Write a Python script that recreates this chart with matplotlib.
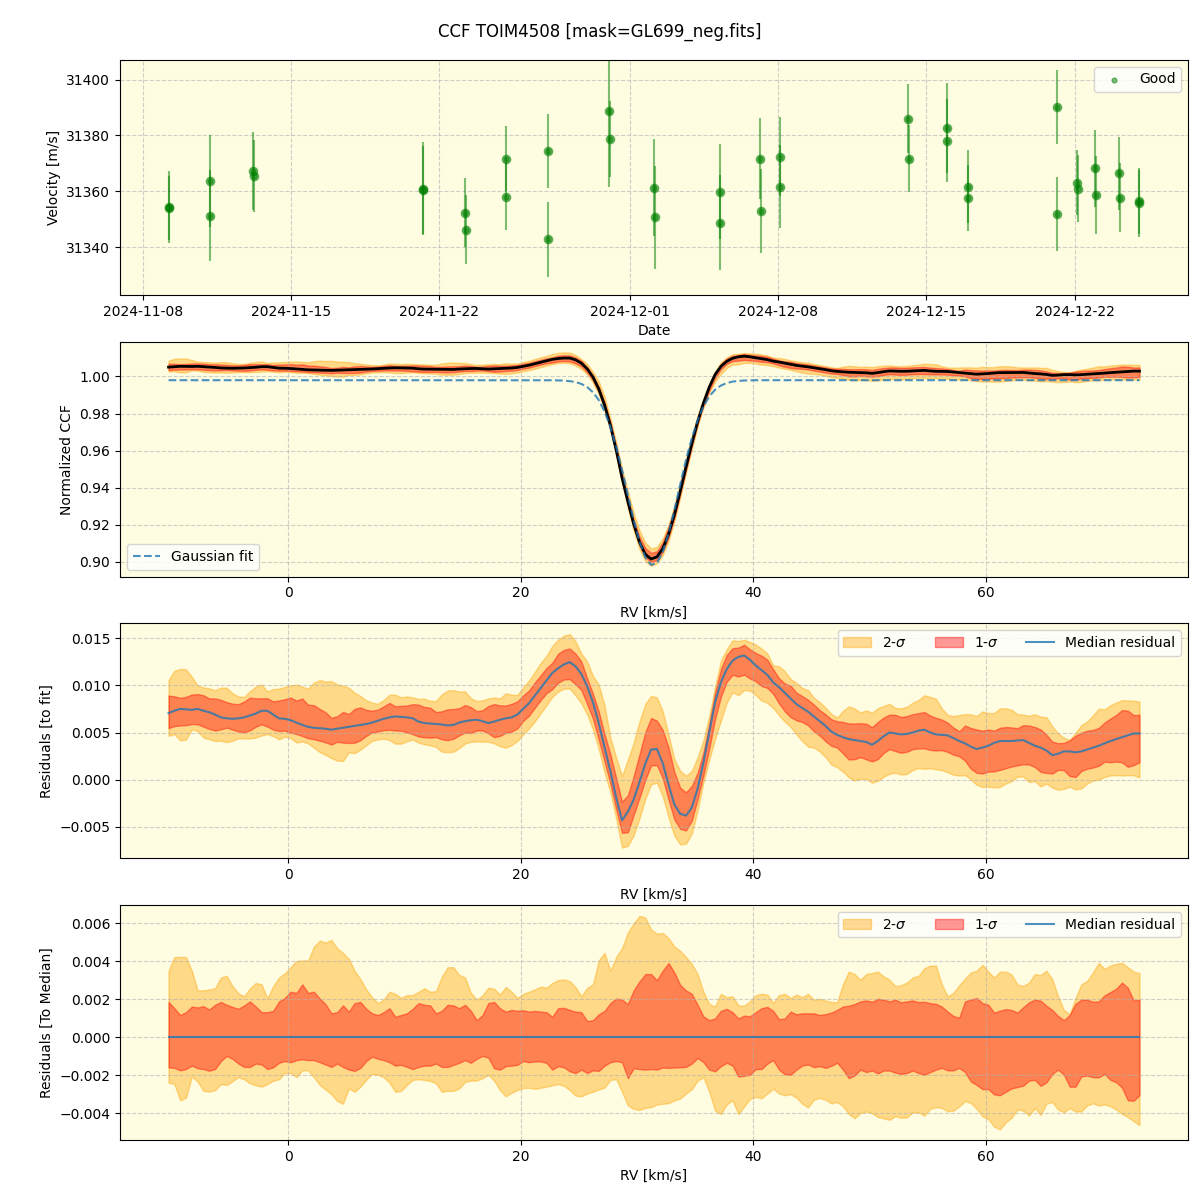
import numpy as np
import pandas as pd
import matplotlib
matplotlib.use("Agg")
import matplotlib.pyplot as plt

# --- RV time series (two exposures per night) ---
obs_time = ["2024-11-09 05:00", "2024-11-09 06:00", "2024-11-11 03:30", "2024-11-11 04:10",
            "2024-11-13 04:40", "2024-11-13 05:20", "2024-11-21 05:10", "2024-11-21 05:50",
            "2024-11-23 05:00", "2024-11-23 05:40", "2024-11-25 03:00", "2024-11-25 03:40",
            "2024-11-27 02:40", "2024-11-27 03:20", "2024-11-30 00:10", "2024-11-30 00:50",
            "2024-12-02 03:40", "2024-12-02 04:20", "2024-12-05 05:30", "2024-12-05 06:00",
            "2024-12-07 03:30", "2024-12-07 04:10", "2024-12-08 01:40", "2024-12-08 02:20",
            "2024-12-14 03:20", "2024-12-14 04:00", "2024-12-15 23:00", "2024-12-15 23:40",
            "2024-12-16 22:40", "2024-12-16 23:20", "2024-12-21 03:30", "2024-12-21 04:10",
            "2024-12-22 02:40", "2024-12-22 03:20", "2024-12-22 23:10", "2024-12-22 23:50",
            "2024-12-24 02:50", "2024-12-24 03:30", "2024-12-25 00:50", "2024-12-25 01:30"]
rv_obs = [31354.5, 31354.0, 31363.8, 31351.3, 31367.4, 31365.6, 31361.0, 31360.5,
          31352.4, 31346.3, 31371.7, 31358.1, 31374.5, 31342.8, 31388.8, 31378.8,
          31361.3, 31350.7, 31359.9, 31348.8, 31371.7, 31352.9, 31372.4, 31361.7,
          31386.0, 31371.7, 31382.7, 31378.1, 31361.7, 31357.7, 31390.2, 31352.0,
          31363.1, 31361.0, 31368.2, 31358.8, 31366.4, 31357.7, 31356.5, 31355.7]
rv_err = [12.9, 11.5, 16.4, 16.2, 13.9, 12.9, 16.5, 15.8,
          12.3, 12.3, 11.7, 12.0, 13.3, 13.3, 27.3, 13.6,
          17.3, 18.3, 17.1, 16.9, 14.4, 15.0, 14.2, 14.8,
          12.3, 11.9, 16.1, 14.8, 13.1, 11.9, 13.4, 13.2,
          11.7, 11.9, 13.9, 14.0, 12.9, 12.3, 11.9, 11.9]

# --- CCF velocity grid [km/s] ---
rv_grid = np.linspace(-10.3, 73.2, 168)

# Gaussian fit to the CCF
gauss_fit = ([0.998] * 66 +
             [0.99796, 0.9979, 0.99776, 0.99749, 0.9970, 0.9960, 0.9943, 0.9915, 0.9873, 0.9811,
              0.9727, 0.9621, 0.9496, 0.9360, 0.9225, 0.9108, 0.9023, 0.8982, 0.8993, 0.9052,
              0.9152, 0.9278, 0.9415, 0.9548, 0.9666, 0.9764, 0.9838, 0.9892, 0.9928, 0.9951,
              0.99645, 0.99722, 0.99762, 0.99783, 0.99793] +
             [0.998] * 67)

# median residual to the fit (x1e-3)
resid_med = [7.05, 7.3, 7.5, 7.45, 7.4, 7.5, 7.3, 7.15, 6.9, 6.6,
             6.5, 6.45, 6.5, 6.6, 6.8, 7.0, 7.3, 7.3, 6.9, 6.5,
             6.45, 6.3, 6.05, 5.8, 5.6, 5.5, 5.45, 5.4, 5.3, 5.4,
             5.5, 5.6, 5.7, 5.8, 5.9, 6.05, 6.25, 6.45, 6.6, 6.7,
             6.65, 6.6, 6.5, 6.15, 6.0, 5.95, 5.9, 5.85, 5.75, 5.8,
             6.05, 6.2, 6.3, 6.35, 6.2, 6.0, 6.15, 6.35, 6.5, 6.6,
             6.9, 7.5, 8.1, 8.9, 9.7, 10.5, 11.3, 11.8, 12.2, 12.45,
             12.0, 11.2, 9.9, 8.2, 6.0, 3.4, 0.9, -1.9, -4.3, -3.4,
             -2.1, -0.25, 1.7, 3.2, 3.25, 1.75, -0.5, -2.6, -3.6, -3.8,
             -2.95, -0.95, 1.8, 5.0, 8.2, 10.3, 11.7, 12.6, 13.0, 13.15,
             12.7, 12.1, 11.6, 11.1, 10.3, 9.8, 9.2, 8.6, 8.0, 7.6,
             7.2, 6.7, 6.2, 5.7, 5.1, 4.75, 4.5, 4.3, 4.2, 4.1,
             4.0, 3.7, 4.1, 4.6, 5.0, 4.9, 4.8, 4.85, 5.0, 5.2,
             5.3, 5.0, 4.8, 4.75, 4.7, 4.4, 4.1, 3.85, 3.5, 3.25,
             3.4, 3.6, 3.9, 4.1, 4.1, 4.1, 4.15, 4.2, 3.9, 3.6,
             3.4, 3.1, 2.6, 2.75, 3.0, 3.0, 2.9, 3.0, 3.2, 3.4,
             3.6, 3.85, 4.1, 4.3, 4.5, 4.7, 4.9, 4.9]

# band edges relative to the median (x1e-3)
dev_hi2 = [3.51, 4.23, 4.23, 4.23, 3.51, 2.47, 2.47, 2.52, 2.58, 3.15,
           3.24, 2.70, 2.32, 2.16, 2.58, 2.86, 2.79, 2.04, 2.70, 3.15,
           3.37, 3.69, 4.02, 4.05, 4.05, 4.78, 5.10, 4.99, 5.14, 4.69,
           4.45, 4.14, 3.51, 3.06, 2.52, 2.11, 1.80, 1.98, 2.40, 2.29,
           2.07, 2.22, 2.22, 2.40, 2.58, 2.40, 2.43, 3.19, 3.69, 3.69,
           3.28, 3.15, 2.34, 1.98, 2.20, 2.61, 2.56, 2.25, 2.65, 2.40,
           2.07, 2.29, 2.40, 2.52, 2.67, 2.61, 2.86, 3.01, 3.05, 2.96,
           2.65, 2.16, 2.61, 2.79, 4.05, 4.45, 3.51, 4.23, 4.69, 5.53,
           6.00, 6.40, 6.31, 5.68, 5.46, 5.50, 5.23, 4.78, 4.56, 4.23,
           3.87, 3.33, 2.40, 1.75, 1.62, 2.29, 2.11, 2.16, 1.68, 1.66,
           1.89, 2.22, 2.29, 2.25, 1.80, 2.22, 2.29, 2.07, 2.25, 2.11,
           2.29, 1.98, 2.02, 1.93, 1.86, 1.84, 2.79, 3.46, 3.33, 3.03,
           3.33, 3.39, 3.46, 3.21, 3.03, 2.70, 2.75, 2.88, 3.15, 3.24,
           3.64, 3.78, 3.78, 2.79, 2.16, 2.34, 2.74, 3.10, 3.42, 3.51,
           3.82, 3.46, 3.15, 3.46, 3.46, 3.31, 2.79, 2.70, 2.88, 3.33,
           3.28, 3.51, 3.06, 2.16, 1.44, 1.21, 2.07, 2.79, 2.97, 3.42,
           3.92, 3.60, 3.78, 3.87, 3.92, 3.69, 3.46, 3.38]
dev_hi1 = [1.86, 1.53, 1.17, 1.32, 1.62, 1.57, 1.64, 1.46, 1.71, 1.86,
           1.71, 1.60, 1.50, 1.68, 1.89, 1.62, 1.32, 1.32, 1.39, 1.89,
           2.07, 2.40, 2.34, 2.79, 2.34, 2.40, 2.04, 1.75, 1.26, 1.32,
           1.68, 1.35, 1.80, 1.86, 1.50, 1.26, 1.17, 1.32, 1.53, 1.08,
           1.17, 1.26, 1.50, 1.80, 1.71, 1.68, 1.26, 1.39, 1.71, 1.68,
           1.53, 1.71, 1.39, 0.90, 1.17, 1.80, 1.86, 1.53, 1.35, 1.44,
           1.39, 1.42, 1.35, 1.39, 1.35, 1.32, 1.08, 1.53, 1.55, 1.44,
           1.35, 1.32, 0.85, 0.90, 1.21, 1.39, 1.80, 2.04, 1.98, 1.75,
           2.47, 2.94, 3.33, 3.33, 3.01, 3.51, 3.91, 3.42, 2.76, 2.47,
           2.29, 1.71, 1.10, 0.90, 0.99, 1.39, 1.50, 1.32, 0.99, 1.14,
           1.10, 1.32, 1.53, 1.60, 1.39, 0.95, 0.99, 1.35, 1.21, 1.26,
           1.26, 1.26, 1.17, 1.22, 1.30, 1.44, 1.62, 1.66, 1.75, 1.89,
           1.94, 1.87, 2.02, 1.98, 1.89, 1.98, 1.84, 1.89, 1.94, 1.85,
           1.87, 1.80, 1.76, 1.62, 1.35, 1.12, 1.03, 1.89, 1.98, 2.07,
           1.80, 1.71, 1.30, 1.40, 1.48, 1.44, 1.30, 1.58, 1.84, 1.98,
           1.93, 1.66, 1.44, 1.12, 0.90, 1.17, 1.76, 1.98, 1.98, 1.87,
           1.89, 2.21, 2.38, 2.56, 2.88, 2.61, 1.94, 1.98]
dev_lo1 = [-1.59, -1.62, -1.75, -1.68, -1.50, -1.64, -1.68, -1.77, -1.68, -1.26,
           -0.99, -1.14, -1.39, -1.57, -1.57, -1.39, -1.44, -1.68, -1.59, -1.35,
           -1.26, -1.32, -1.21, -1.17, -1.21, -1.21, -1.32, -1.44, -1.57, -1.39,
           -1.57, -1.71, -1.78, -1.62, -1.26, -1.03, -1.14, -1.21, -1.32, -1.50,
           -1.46, -1.57, -1.68, -1.57, -1.50, -1.50, -1.39, -1.57, -1.57, -1.46,
           -1.35, -1.21, -1.35, -1.14, -0.99, -1.08, -1.64, -1.71, -1.53, -1.50,
           -1.46, -1.26, -1.32, -1.28, -1.28, -1.35, -1.71, -1.53, -1.59, -1.80,
           -1.89, -1.71, -1.89, -1.75, -1.78, -1.50, -1.32, -1.26, -1.32, -2.16,
           -1.64, -1.68, -1.71, -1.68, -1.71, -1.60, -1.62, -1.60, -1.59, -1.57,
           -1.39, -1.10, -1.32, -1.71, -1.80, -1.53, -1.35, -1.50, -2.07, -2.04,
           -1.98, -1.68, -1.68, -1.39, -1.21, -1.71, -1.96, -1.98, -1.71, -1.50,
           -1.44, -1.58, -1.53, -1.62, -1.51, -1.35, -1.71, -2.16, -2.02, -1.71,
           -1.84, -1.76, -1.91, -1.76, -1.76, -1.87, -1.94, -1.89, -1.76, -1.89,
           -1.98, -1.84, -1.71, -1.62, -1.75, -1.75, -1.62, -1.84, -2.34, -2.52,
           -2.74, -2.74, -3.02, -3.06, -2.88, -2.70, -2.63, -2.56, -2.29, -2.25,
           -2.57, -2.38, -1.94, -1.71, -1.98, -2.61, -2.61, -2.07, -2.03, -2.11,
           -2.12, -1.94, -2.25, -2.38, -2.66, -3.33, -3.35, -3.06]
dev_lo2 = [-2.40, -2.47, -3.33, -3.19, -2.07, -2.34, -2.83, -2.87, -2.79, -2.47,
           -2.52, -2.32, -2.11, -2.22, -2.43, -2.54, -2.61, -2.47, -2.29, -2.22,
           -1.89, -1.89, -2.11, -1.75, -1.75, -2.11, -2.52, -2.76, -3.01, -3.37,
           -3.51, -2.70, -2.88, -2.61, -2.25, -1.93, -1.98, -2.11, -2.40, -2.88,
           -2.83, -2.52, -2.25, -2.22, -2.25, -2.31, -2.43, -2.88, -2.83, -2.83,
           -2.70, -2.36, -2.29, -2.29, -2.16, -1.98, -2.29, -2.79, -3.12, -2.93,
           -2.79, -2.68, -2.67, -2.72, -2.67, -2.61, -2.54, -2.47, -2.56, -2.79,
           -3.08, -3.12, -2.97, -2.88, -2.76, -2.65, -2.25, -2.22, -2.88, -3.60,
           -3.78, -3.84, -3.73, -3.69, -3.55, -3.51, -3.48, -3.33, -3.24, -2.97,
           -2.74, -2.29, -2.11, -2.88, -3.87, -4.05, -3.55, -3.33, -4.05, -3.66,
           -3.26, -3.15, -3.22, -2.97, -2.72, -2.97, -3.06, -3.01, -3.19, -3.51,
           -3.70, -3.30, -3.20, -3.30, -3.49, -3.42, -3.64, -4.05, -4.28, -4.00,
           -3.92, -4.01, -4.21, -4.28, -4.36, -4.16, -4.25, -4.23, -3.96, -3.96,
           -4.14, -3.78, -3.69, -3.73, -3.91, -3.87, -3.65, -3.37, -3.47, -3.78,
           -4.18, -4.32, -4.72, -4.86, -4.50, -4.25, -3.82, -3.87, -4.14, -3.74,
           -4.10, -3.51, -3.42, -3.82, -3.96, -3.74, -3.92, -3.92, -3.60, -3.49,
           -3.60, -3.55, -3.64, -3.82, -4.05, -4.21, -4.43, -4.64]

for arr in (gauss_fit, resid_med, dev_hi2, dev_hi1, dev_lo1, dev_lo2):
    assert len(arr) == len(rv_grid), len(arr)

t = pd.to_datetime(obs_time)
fit = np.array(gauss_fit)
med = np.array(resid_med) * 1e-3
hi2 = np.array(dev_hi2) * 1e-3
hi1 = np.array(dev_hi1) * 1e-3
lo1 = np.array(dev_lo1) * 1e-3
lo2 = np.array(dev_lo2) * 1e-3

bg = '#fefce1'
fig, axes = plt.subplots(4, 1, figsize=(12, 12), dpi=100)
fig.subplots_adjust(left=0.1, right=0.99, top=0.95, bottom=0.05, hspace=0.2)
fig.suptitle("CCF TOIM4508 [mask=GL699_neg.fits]", fontsize=12, y=0.981)

for ax in axes:
    ax.set_facecolor(bg)
    ax.grid(True, linestyle='--', alpha=0.6)

# panel 1: velocities
ax = axes[0]
ax.errorbar(t, rv_obs, yerr=rv_err, fmt='o', color='green', alpha=0.5, ms=6)
ax.scatter(t, rv_obs, color='green', s=12, alpha=0.5, label='Good')
ax.set_ylim(31323, 31407)
ax.set_xlabel('Date')
ax.set_ylabel('Velocity [m/s]')
ax.legend(loc='upper right')

# panel 2: CCF and fit
ax = axes[1]
ccf = fit + med
ax.fill_between(rv_grid, ccf + lo2, ccf + hi2, color='orange', alpha=0.4)
ax.fill_between(rv_grid, ccf + lo1, ccf + hi1, color='red', alpha=0.4)
ax.plot(rv_grid, ccf, color='black', lw=2)
ax.plot(rv_grid, fit, '--', color='tab:blue', alpha=0.8, lw=1.5, label='Gaussian fit')
ax.set_xlabel('RV [km/s]')
ax.set_ylabel('Normalized CCF')
ax.legend(loc='lower left')

# panel 3: residuals to fit
ax = axes[2]
ax.fill_between(rv_grid, med + lo2, med + hi2, color='orange', alpha=0.4, label='2-$\\sigma$')
ax.fill_between(rv_grid, med + lo1, med + hi1, color='red', alpha=0.4, label='1-$\\sigma$')
ax.plot(rv_grid, med, color='tab:blue', alpha=0.8, lw=1.5, label='Median residual')
ax.set_xlabel('RV [km/s]')
ax.set_ylabel('Residuals [to fit]')
ax.legend(loc='upper right', ncol=3)

# panel 4: residuals to median
ax = axes[3]
zero = np.zeros_like(med)
ax.fill_between(rv_grid, lo2, hi2, color='orange', alpha=0.4, label='2-$\\sigma$')
ax.fill_between(rv_grid, lo1, hi1, color='red', alpha=0.4, label='1-$\\sigma$')
ax.plot(rv_grid, zero, color='tab:blue', alpha=0.8, lw=1.5, label='Median residual')
ax.set_xlabel('RV [km/s]')
ax.set_ylabel('Residuals [To Median]')
ax.legend(loc='upper right', ncol=3)

fig.savefig('out.png', dpi=100)
